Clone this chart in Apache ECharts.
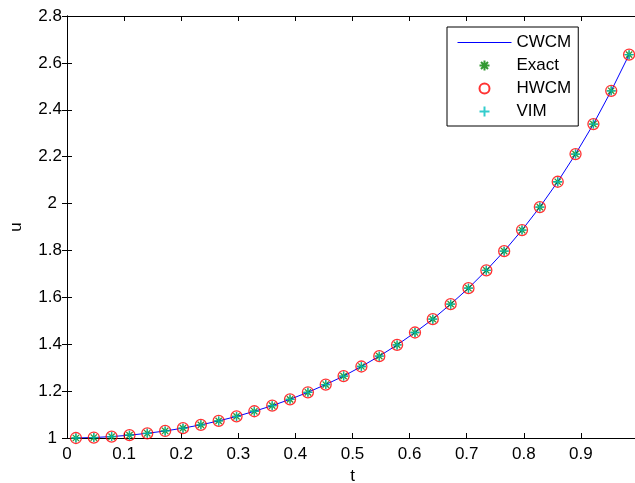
<!DOCTYPE html>
<html>
<head>
<meta charset="utf-8">
<script src="https://cdn.jsdelivr.net/npm/echarts@6/dist/echarts.min.js"></script>
<style>
  html, body { margin: 0; padding: 0; background: #fff; }
  #chart { width: 635px; height: 483px; }
</style>
</head>
<body>
<div id="chart"></div>
<script>
// Collocation points t_i = (2i-1)/64
const t = [0.0156, 0.0469, 0.0781, 0.1094, 0.1406, 0.1719, 0.2031, 0.2344,
           0.2656, 0.2969, 0.3281, 0.3594, 0.3906, 0.4219, 0.4531, 0.4844,
           0.5156, 0.5469, 0.5781, 0.6094, 0.6406, 0.6719, 0.7031, 0.7344,
           0.7656, 0.7969, 0.8281, 0.8594, 0.8906, 0.9219, 0.9531, 0.9844];

// Solution values u(t) for each method
const cwcm = [1.000, 1.002, 1.006, 1.012, 1.020, 1.030, 1.042, 1.056,
              1.073, 1.092, 1.114, 1.138, 1.165, 1.195, 1.228, 1.264,
              1.305, 1.349, 1.397, 1.450, 1.507, 1.571, 1.639, 1.715,
              1.797, 1.887, 1.985, 2.093, 2.211, 2.339, 2.481, 2.635];
const exact = [1.000, 1.002, 1.006, 1.012, 1.020, 1.030, 1.042, 1.056,
               1.073, 1.092, 1.114, 1.138, 1.165, 1.195, 1.228, 1.264,
               1.305, 1.349, 1.397, 1.450, 1.507, 1.571, 1.639, 1.715,
               1.797, 1.887, 1.985, 2.093, 2.211, 2.339, 2.481, 2.635];
const hwcm = [1.000, 1.002, 1.006, 1.012, 1.020, 1.030, 1.042, 1.056,
              1.073, 1.092, 1.114, 1.138, 1.165, 1.195, 1.228, 1.264,
              1.305, 1.349, 1.397, 1.450, 1.507, 1.571, 1.639, 1.715,
              1.797, 1.887, 1.985, 2.093, 2.211, 2.339, 2.481, 2.635];
const vim = [1.000, 1.002, 1.006, 1.012, 1.020, 1.030, 1.042, 1.056,
             1.073, 1.092, 1.114, 1.138, 1.165, 1.195, 1.228, 1.264,
             1.305, 1.349, 1.397, 1.450, 1.507, 1.571, 1.639, 1.715,
             1.797, 1.887, 1.985, 2.093, 2.211, 2.339, 2.481, 2.635];

const seriesNames = ['CWCM', 'Exact', 'HWCM', 'VIM'];

const pairs = ys => t.map((x, i) => [x, ys[i]]);

// Marker shapes: asterisk (plus + cross) and plus
const ASTERISK = 'path://M5,0L5,10M0,5L10,5M1.5,1.5L8.5,8.5M8.5,1.5L1.5,8.5';
const PLUS = 'path://M5,0L5,10M0,5L10,5';

const FONT = 'Liberation Sans, Arial, Helvetica, sans-serif';
const FS = 17;
const axisText = { color: '#000', fontFamily: FONT, fontSize: FS };
const tickIn = { show: true, inside: true, length: 5, lineStyle: { color: '#000', width: 1 } };
const lineBlack = { show: true, lineStyle: { color: '#000', width: 1 } };

// Tick text: one decimal, integers shown without decimals
const fmt = v => String(Math.round(v * 10) / 10);
// Integer y labels sit a little further from the axis
const fmtY = v => {
  const s = fmt(v);
  return s.indexOf('.') < 0 ? '{p|' + s + '}' : s;
};

const chart = echarts.init(document.getElementById('chart'), null, { renderer: 'canvas' });

chart.setOption({
  animation: false,
  backgroundColor: '#fff',
  grid: { left: 67, right: -3, top: 16, bottom: 45, containLabel: false, outerBoundsMode: 'none' },
  xAxis: [
    {
      type: 'value', min: 0, max: 1, interval: 0.1,
      name: 't', nameLocation: 'middle', nameGap: 28,
      nameTextStyle: { color: '#000', fontFamily: FONT, fontSize: FS },
      axisLine: lineBlack, axisTick: tickIn,
      axisLabel: { ...axisText, margin: 8, showMaxLabel: false, formatter: fmt },
      splitLine: { show: false }
    },
    {
      type: 'value', min: 0, max: 1, interval: 0.1, position: 'top',
      axisLine: lineBlack, axisTick: tickIn,
      axisLabel: { show: false }, splitLine: { show: false }
    }
  ],
  yAxis: [
    {
      type: 'value', min: 1, max: 2.8, interval: 0.2,
      name: 'u', nameLocation: 'middle', nameGap: 42, nameRotate: 90,
      nameTextStyle: { color: '#000', fontFamily: FONT, fontSize: FS },
      axisLine: lineBlack, axisTick: tickIn,
      axisLabel: {
        ...axisText, margin: 5, formatter: fmtY,
        rich: { p: { color: '#000', fontFamily: FONT, fontSize: FS, padding: [0, 5, 0, 0] } }
      },
      splitLine: { show: false }
    },
    {
      type: 'value', min: 1, max: 2.8, interval: 0.2, position: 'right',
      axisLine: lineBlack, axisTick: tickIn,
      axisLabel: { show: false }, splitLine: { show: false }
    }
  ],
  legend: {
    orient: 'vertical',
    left: 447, top: 27,
    padding: [7, 7, 6, 10],
    itemWidth: 54, itemHeight: 10, itemGap: 6,
    backgroundColor: '#fff',
    borderColor: '#000', borderWidth: 1, borderRadius: 0,
    textStyle: { color: '#000', fontFamily: FONT, fontSize: FS, lineHeight: FS },
    lineStyle: { width: 1 },
    selectedMode: false,
    data: seriesNames
  },
  series: [
    {
      name: seriesNames[0], type: 'line', data: pairs(cwcm),
      symbol: 'none', showSymbol: false,
      lineStyle: { color: '#0000ff', width: 1 },
      // symbol hidden so the legend shows the bare line
      itemStyle: { color: '#0000ff', opacity: 0 }, z: 2
    },
    {
      name: seriesNames[1], type: 'scatter', data: pairs(exact),
      symbol: ASTERISK, symbolSize: 9,
      itemStyle: { color: 'transparent', borderColor: '#008000', borderWidth: 1.3 }, z: 3
    },
    {
      name: seriesNames[2], type: 'scatter', data: pairs(hwcm),
      symbol: 'circle', symbolSize: 11,
      itemStyle: { color: 'transparent', borderColor: '#ff0000', borderWidth: 1.3 }, z: 4
    },
    {
      name: seriesNames[3], type: 'scatter', data: pairs(vim),
      symbol: PLUS, symbolSize: 9,
      itemStyle: { color: 'transparent', borderColor: '#00bfbf', borderWidth: 1.3 }, z: 5
    }
  ]
});
</script>
</body>
</html>
